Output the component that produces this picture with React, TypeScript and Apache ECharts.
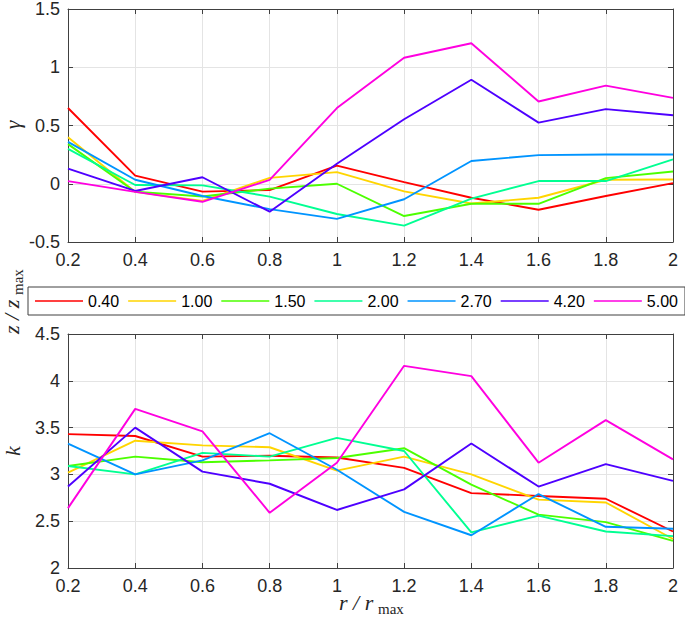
import React, { useEffect, useRef } from "react";
import * as echarts from "echarts";

// x positions r / r_max
const rValues = [0.2, 0.4, 0.6, 0.8, 1.0, 1.2, 1.4, 1.6, 1.8, 2.0];

// legend labels z / z_max
const zLabels = ["0.40", "1.00", "1.50", "2.00", "2.70", "4.20", "5.00"];
const lineColors = ["#ff0000", "#ffd500", "#4cff00", "#00ff92", "#0094ff", "#4e00ff", "#ff00e0"];

// gamma (top panel)
const gamma040 = [0.65, 0.07, -0.068, -0.054, 0.155, 0.014, -0.12, -0.223, -0.105, 0.005];
const gamma100 = [0.4, -0.07, -0.147, 0.05, 0.1, -0.065, -0.17, -0.12, 0.034, 0.037];
const gamma150 = [0.34, -0.068, -0.11, -0.042, 0.0, -0.277, -0.172, -0.172, 0.048, 0.105];
const gamma200 = [0.3, -0.011, -0.014, -0.11, -0.26, -0.359, -0.127, 0.023, 0.023, 0.209];
const gamma270 = [0.36, 0.034, -0.105, -0.218, -0.302, -0.133, 0.195, 0.246, 0.251, 0.251];
const gamma420 = [0.13, -0.062, 0.056, -0.24, 0.172, 0.554, 0.893, 0.525, 0.641, 0.588];
const gamma500 = [0.023, -0.07, -0.155, 0.034, 0.65, 1.082, 1.206, 0.706, 0.842, 0.737];

// k (bottom panel)
const k040 = [3.43, 3.41, 3.19, 3.2, 3.18, 3.07, 2.8, 2.77, 2.74, 2.39];
const k100 = [3.02, 3.36, 3.31, 3.29, 3.04, 3.19, 3.0, 2.73, 2.7, 2.31];
const k150 = [3.09, 3.19, 3.13, 3.15, 3.175, 3.28, 2.89, 2.57, 2.49, 2.29];
const k200 = [3.09, 3.0, 3.23, 3.19, 3.39, 3.25, 2.38, 2.56, 2.39, 2.34];
const k270 = [3.33, 3.0, 3.15, 3.44, 3.05, 2.6, 2.35, 2.79, 2.44, 2.42];
const k420 = [2.87, 3.5, 3.03, 2.9, 2.62, 2.84, 3.33, 2.87, 3.11, 2.93];
const k500 = [2.64, 3.7, 3.46, 2.59, 3.125, 4.16, 4.05, 3.125, 3.58, 3.16];

const gammaTicks = { min: -0.5, max: 1.5, interval: 0.5 };
const kTicks = { min: 2, max: 4.5, interval: 0.5 };
const rTicks = { min: 0.2, max: 2, interval: 0.2 };

const gammaSeries = [gamma040, gamma100, gamma150, gamma200, gamma270, gamma420, gamma500];
const kSeries = [k040, k100, k150, k200, k270, k420, k500];

const AXIS = "#404040";
const TEXT = "#262626";
const GRIDC = "#e4e4e4";
const SANS = '"Liberation Sans", Arial, Helvetica, sans-serif';
const SERIF = '"Liberation Serif", "Times New Roman", serif';

function xAxisDef(gridIndex: number, position: "bottom" | "top") {
  const main = position === "bottom";
  return {
    type: "value",
    gridIndex,
    position,
    min: rTicks.min,
    max: rTicks.max,
    interval: rTicks.interval,
    axisLine: { show: true, onZero: false, lineStyle: { color: AXIS, width: 1 } },
    axisTick: { show: true, inside: true, length: 5, lineStyle: { color: AXIS, width: 1 } },
    axisLabel: {
      show: main,
      fontSize: 18,
      fontFamily: SANS,
      color: TEXT,
      margin: 9,
      formatter: (v: number) => String(+v.toFixed(1)),
    },
    splitLine: { show: main, lineStyle: { color: GRIDC, width: 1 } },
  };
}

function yAxisDef(gridIndex: number, position: "left" | "right", t: { min: number; max: number; interval: number }) {
  const main = position === "left";
  return {
    type: "value",
    gridIndex,
    position,
    min: t.min,
    max: t.max,
    interval: t.interval,
    axisLine: { show: true, onZero: false, lineStyle: { color: AXIS, width: 1 } },
    axisTick: { show: true, inside: true, length: 5, lineStyle: { color: AXIS, width: 1 } },
    axisLabel: {
      show: main,
      fontSize: 18,
      fontFamily: SANS,
      color: TEXT,
      margin: 8,
      formatter: (v: number) => String(+v.toFixed(1)),
    },
    splitLine: { show: main, lineStyle: { color: GRIDC, width: 1 } },
  };
}

export default function App() {
  const ref = useRef<HTMLDivElement>(null);

  useEffect(() => {
    document.body.style.margin = "0";
    if (!ref.current) return;
    const chart = echarts.init(ref.current, undefined, { renderer: "svg" });

    const series: any[] = [];
    zLabels.forEach((name, i) => {
      series.push({
        type: "line",
        name,
        xAxisIndex: 0,
        yAxisIndex: 0,
        data: rValues.map((r, j) => [r, gammaSeries[i][j]]),
        symbol: "none",
        lineStyle: { color: lineColors[i], width: 1.9 },
        itemStyle: { color: lineColors[i] },
        z: 2 + i,
      });
    });
    zLabels.forEach((name, i) => {
      series.push({
        type: "line",
        name,
        xAxisIndex: 2,
        yAxisIndex: 2,
        data: rValues.map((r, j) => [r, kSeries[i][j]]),
        symbol: "none",
        lineStyle: { color: lineColors[i], width: 1.9 },
        itemStyle: { color: lineColors[i] },
        z: 2 + i,
      });
    });

    const option: any = {
      animation: false,
      backgroundColor: "#ffffff",
      grid: [
        { left: 68, right: 12, top: 7, height: 235 },
        { left: 68, right: 12, top: 334, height: 234 },
      ],
      xAxis: [
        xAxisDef(0, "bottom"),
        xAxisDef(0, "top"),
        xAxisDef(1, "bottom"),
        xAxisDef(1, "top"),
      ],
      yAxis: [
        yAxisDef(0, "left", gammaTicks),
        yAxisDef(0, "right", gammaTicks),
        yAxisDef(1, "left", kTicks),
        yAxisDef(1, "right", kTicks),
      ],
      legend: {
        data: zLabels.map((n) => ({ name: n, icon: "rect" })),
        orient: "horizontal",
        left: 28,
        top: 287,
        width: 680,
        padding: [6, 7],
        itemGap: 9,
        itemWidth: 48,
        itemHeight: 1.5,
        borderColor: AXIS,
        borderWidth: 1,
        backgroundColor: "#ffffff",
        selectedMode: false,
        textStyle: { fontSize: 16, fontFamily: SANS, color: "#000000", lineHeight: 15 },
      },
      graphic: [
        {
          type: "text",
          x: 12,
          y: 125,
          rotation: Math.PI / 2,
          style: { text: "γ", font: `italic 22px ${SERIF}`, fill: TEXT, align: "center", verticalAlign: "middle" },
        },
        {
          type: "text",
          x: 12,
          y: 451,
          rotation: Math.PI / 2,
          style: { text: "k", font: `italic 22px ${SERIF}`, fill: TEXT, align: "center", verticalAlign: "middle" },
        },
        {
          type: "group",
          x: 11,
          y: 334,
          rotation: Math.PI / 2,
          children: [
            {
              type: "text",
              x: 0,
              y: 0,
              style: { text: "z / z", font: `italic 22px ${SERIF}`, fill: TEXT, align: "left", verticalAlign: "middle" },
            },
            {
              type: "text",
              x: 39,
              y: 7,
              style: { text: "max", font: `15px ${SERIF}`, fill: TEXT, align: "left", verticalAlign: "middle" },
            },
          ],
        },
        {
          type: "group",
          x: 339,
          y: 602,
          children: [
            {
              type: "text",
              x: 0,
              y: 0,
              style: { text: "r / r", font: `italic 22px ${SERIF}`, fill: TEXT, align: "left", verticalAlign: "middle" },
            },
            {
              type: "text",
              x: 39,
              y: 7,
              style: { text: "max", font: `15px ${SERIF}`, fill: TEXT, align: "left", verticalAlign: "middle" },
            },
          ],
        },
      ],
      series,
    };

    chart.setOption(option);
    return () => chart.dispose();
  }, []);

  return <div ref={ref} style={{ width: 685, height: 623 }} />;
}
